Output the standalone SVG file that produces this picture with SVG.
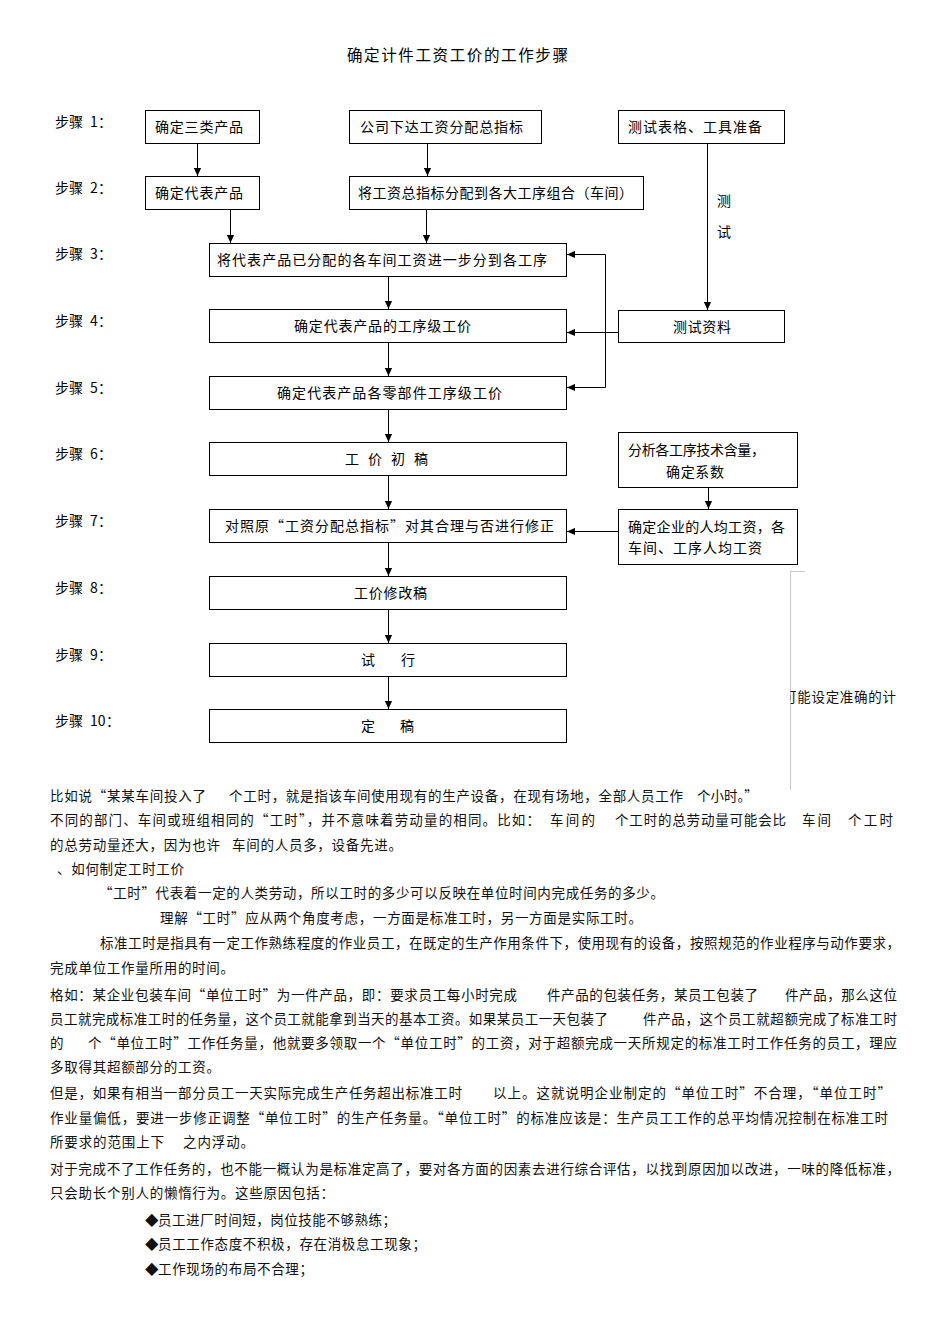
<svg xmlns="http://www.w3.org/2000/svg" width="950" height="1344" viewBox="0 0 950 1344">
<style>
.bg{fill:#fff}
.box{fill:#fff;stroke:#000;stroke-width:1}
.t{font-family:"Noto Sans CJK SC","Liberation Sans",sans-serif;font-size:14px;fill:#000}
.title{font-family:"Noto Sans CJK SC","Liberation Sans",sans-serif;font-size:15.5px;fill:#000}
.b{font-family:"Noto Sans CJK SC","Liberation Serif",serif;font-size:13.5px;fill:#111}
.conn{stroke:#000;stroke-width:1;fill:none}
.gray{stroke:#c8c8c8;stroke-width:1;fill:none}
</style>
<defs>
<marker id="ah" viewBox="0 0 10 10" refX="10" refY="5" markerWidth="8" markerHeight="8" markerUnits="userSpaceOnUse" orient="auto-start-reverse">
<path d="M0,0.5 L10,5 L0,9.5 z" fill="#000"/>
</marker>
<clipPath id="clipR"><rect x="790.5" y="680" width="160" height="30"/></clipPath>
</defs>
<rect class="bg" x="0" y="0" width="950" height="1344"/>

<text class="title" x="347" y="61" textLength="221" lengthAdjust="spacing">确定计件工资工价的工作步骤</text>

<g id="step-labels">
<text class="t" x="55" y="127">步骤<tspan x="90">1</tspan><tspan x="98">：</tspan></text>
<text class="t" x="55" y="193">步骤<tspan x="90">2</tspan><tspan x="98">：</tspan></text>
<text class="t" x="55" y="259">步骤<tspan x="90">3</tspan><tspan x="98">：</tspan></text>
<text class="t" x="55" y="326">步骤<tspan x="90">4</tspan><tspan x="98">：</tspan></text>
<text class="t" x="55" y="393">步骤<tspan x="90">5</tspan><tspan x="98">：</tspan></text>
<text class="t" x="55" y="459">步骤<tspan x="90">6</tspan><tspan x="98">：</tspan></text>
<text class="t" x="55" y="526">步骤<tspan x="90">7</tspan><tspan x="98">：</tspan></text>
<text class="t" x="55" y="593">步骤<tspan x="90">8</tspan><tspan x="98">：</tspan></text>
<text class="t" x="55" y="660">步骤<tspan x="90">9</tspan><tspan x="98">：</tspan></text>
<text class="t" x="55" y="726">步骤<tspan x="90">10</tspan><tspan x="106">：</tspan></text>
</g>

<g id="connectors">
<path class="conn" d="M197.5,143 V176" marker-end="url(#ah)"/>
<path class="conn" d="M427.5,143 V176" marker-end="url(#ah)"/>
<path class="conn" d="M230.5,210 V243" marker-end="url(#ah)"/>
<path class="conn" d="M426.5,210 V243" marker-end="url(#ah)"/>
<path class="conn" d="M388.5,276 V309" marker-end="url(#ah)"/>
<path class="conn" d="M388.5,342 V376" marker-end="url(#ah)"/>
<path class="conn" d="M388.5,409 V442" marker-end="url(#ah)"/>
<path class="conn" d="M388.5,475 V509" marker-end="url(#ah)"/>
<path class="conn" d="M388.5,542 V576" marker-end="url(#ah)"/>
<path class="conn" d="M388.5,609 V643" marker-end="url(#ah)"/>
<path class="conn" d="M388.5,676 V709" marker-end="url(#ah)"/>
<path class="conn" d="M707.5,143 V310" marker-end="url(#ah)"/>
<path class="conn" d="M618,332.5 H567" marker-end="url(#ah)"/>
<path class="conn" d="M567,254.5 H605.5 V387.5 H567" marker-start="url(#ah)" marker-end="url(#ah)"/>
<path class="conn" d="M708.5,487 V509" marker-end="url(#ah)"/>
<path class="conn" d="M618,531.5 H567" marker-end="url(#ah)"/>
<text class="t" x="717" y="206">测</text>
<text class="t" x="717" y="237">试</text>
</g>

<g id="n-sanlei"><rect class="box" x="145.5" y="110.5" width="114" height="33"/><text class="t" x="155" y="132" textLength="88" lengthAdjust="spacing">确定三类产品</text></g>
<g id="n-gongsi"><rect class="box" x="349.5" y="110.5" width="192" height="33"/><text class="t" x="360" y="132" textLength="163" lengthAdjust="spacing">公司下达工资分配总指标</text></g>
<g id="n-ceshibiao"><rect class="box" x="618.5" y="110.5" width="166" height="33"/><text class="t" x="628" y="132" textLength="134" lengthAdjust="spacing">测试表格、工具准备</text></g>
<g id="n-daibiao"><rect class="box" x="145.5" y="176.5" width="114" height="33"/><text class="t" x="155" y="198" textLength="88" lengthAdjust="spacing">确定代表产品</text></g>
<g id="n-fenpei"><rect class="box" x="349.5" y="176.5" width="294" height="33"/><text class="t" x="358" y="198" textLength="275" lengthAdjust="spacing">将工资总指标分配到各大工序组合（车间）</text></g>
<g id="n-s3"><rect class="box" x="209.5" y="243.5" width="357" height="33"/><text class="t" x="217" y="265" textLength="330" lengthAdjust="spacing">将代表产品已分配的各车间工资进一步分到各工序</text></g>
<g id="n-s4"><rect class="box" x="209.5" y="309.5" width="357" height="33"/><text class="t" x="294" y="331" textLength="177" lengthAdjust="spacing">确定代表产品的工序级工价</text></g>
<g id="n-s5"><rect class="box" x="209.5" y="376.5" width="357" height="33"/><text class="t" x="277" y="398" textLength="225" lengthAdjust="spacing">确定代表产品各零部件工序级工价</text></g>
<g id="n-s6"><rect class="box" x="209.5" y="442.5" width="357" height="33"/><text class="t" x="345 368 391 414" y="464">工价初稿</text></g>
<g id="n-s7"><rect class="box" x="209.5" y="509.5" width="357" height="33"/><text class="t" x="225" y="531" textLength="329" lengthAdjust="spacing">对照原“工资分配总指标”对其合理与否进行修正</text></g>
<g id="n-s8"><rect class="box" x="209.5" y="576.5" width="357" height="33"/><text class="t" x="354" y="598" textLength="73" lengthAdjust="spacing">工价修改稿</text></g>
<g id="n-s9"><rect class="box" x="209.5" y="643.5" width="357" height="33"/><text class="t" x="361 401" y="665">试行</text></g>
<g id="n-s10"><rect class="box" x="209.5" y="709.5" width="357" height="33"/><text class="t" x="361 400" y="731">定稿</text></g>
<g id="n-ceshiziliao"><rect class="box" x="618.5" y="310.5" width="166" height="32"/><text class="t" x="673" y="332" textLength="58" lengthAdjust="spacing">测试资料</text></g>
<g id="n-fenxi"><rect class="box" x="618.5" y="432.5" width="179" height="55"/><text class="t" x="628" y="455" textLength="137" lengthAdjust="spacing">分析各工序技术含量，</text><text class="t" x="666" y="477" textLength="58" lengthAdjust="spacing">确定系数</text></g>
<g id="n-renjun"><rect class="box" x="618.5" y="509.5" width="179" height="55"/><text class="t" x="628" y="532" textLength="157" lengthAdjust="spacing">确定企业的人均工资，各</text><text class="t" x="628" y="553" textLength="134" lengthAdjust="spacing">车间、工序人均工资</text></g>

<g id="stray">
<path class="gray" d="M790.5,571.5 H805 M790.5,571 V790"/>
<text class="b" x="783" y="702" textLength="113" lengthAdjust="spacing" clip-path="url(#clipR)">可能设定准确的计</text>
</g>

<g id="body">
<text class="b" x="50" y="801" textLength="156" lengthAdjust="spacing">比如说“某某车间投入了</text>
<text class="b" x="229" y="801" textLength="454" lengthAdjust="spacing">个工时，就是指该车间使用现有的生产设备，在现有场地，全部人员工作</text>
<text class="b" x="697" y="801">个小时。”</text>

<text class="b" x="50" y="825" textLength="490" lengthAdjust="spacing">不同的部门、车间或班组相同的“工时”，并不意味着劳动量的相同。比如：</text>
<text class="b" x="550" y="825" textLength="45" lengthAdjust="spacing">车间的</text>
<text class="b" x="615" y="825" textLength="171" lengthAdjust="spacing">个工时的总劳动量可能会比</text>
<text class="b" x="802" y="825" textLength="29" lengthAdjust="spacing">车间</text>
<text class="b" x="848" y="825" textLength="45" lengthAdjust="spacing">个工时</text>

<text class="b" x="50" y="850" textLength="170" lengthAdjust="spacing">的总劳动量还大，因为也许</text>
<text class="b" x="232" y="850" textLength="170" lengthAdjust="spacing">车间的人员多，设备先进。</text>

<text class="b" x="57" y="874" textLength="127" lengthAdjust="spacing">、如何制定工时工价</text>
<text class="b" x="99" y="898" textLength="565" lengthAdjust="spacing">“工时”代表着一定的人类劳动，所以工时的多少可以反映在单位时间内完成任务的多少。</text>
<text class="b" x="160" y="923" textLength="482" lengthAdjust="spacing">理解“工时”应从两个角度考虑，一方面是标准工时，另一方面是实际工时。</text>
<text class="b" x="100" y="948" textLength="800" lengthAdjust="spacing">标准工时是指具有一定工作熟练程度的作业员工，在既定的生产作用条件下，使用现有的设备，按照规范的作业程序与动作要求，</text>
<text class="b" x="50" y="973" textLength="184" lengthAdjust="spacing">完成单位工作量所用的时间。</text>

<text class="b" x="50" y="1000" textLength="467" lengthAdjust="spacing">格如：某企业包装车间“单位工时”为一件产品，即：要求员工每小时完成</text>
<text class="b" x="547" y="1000" textLength="211" lengthAdjust="spacing">件产品的包装任务，某员工包装了</text>
<text class="b" x="785" y="1000" textLength="112" lengthAdjust="spacing">件产品，那么这位</text>

<text class="b" x="50" y="1024" textLength="558" lengthAdjust="spacing">员工就完成标准工时的任务量，这个员工就能拿到当天的基本工资。如果某员工一天包装了</text>
<text class="b" x="643" y="1024" textLength="254" lengthAdjust="spacing">件产品，这个员工就超额完成了标准工时</text>

<text class="b" x="50" y="1048">的</text>
<text class="b" x="88" y="1048" textLength="809" lengthAdjust="spacing">个“单位工时”工作任务量，他就要多领取一个“单位工时”的工资，对于超额完成一天所规定的标准工时工作任务的员工，理应</text>
<text class="b" x="50" y="1072" textLength="170" lengthAdjust="spacing">多取得其超额部分的工资。</text>

<text class="b" x="50" y="1098" textLength="412" lengthAdjust="spacing">但是，如果有相当一部分员工一天实际完成生产任务超出标准工时</text>
<text class="b" x="493" y="1098" textLength="398" lengthAdjust="spacing">以上。这就说明企业制定的“单位工时”不合理，“单位工时”</text>
<text class="b" x="50" y="1123" textLength="838" lengthAdjust="spacing">作业量偏低，要进一步修正调整“单位工时”的生产任务量。“单位工时”的标准应该是：生产员工工作的总平均情况控制在标准工时</text>
<text class="b" x="50" y="1147" textLength="114" lengthAdjust="spacing">所要求的范围上下</text>
<text class="b" x="183" y="1147" textLength="71" lengthAdjust="spacing">之内浮动。</text>

<text class="b" x="50" y="1174" textLength="850" lengthAdjust="spacing">对于完成不了工作任务的，也不能一概认为是标准定高了，要对各方面的因素去进行综合评估，以找到原因加以改进，一味的降低标准，</text>
<text class="b" x="50" y="1198" textLength="284" lengthAdjust="spacing">只会助长个别人的懒惰行为。这些原因包括：</text>

<text class="b" x="145" y="1225">◆</text><text class="b" x="158" y="1225" textLength="238" lengthAdjust="spacing">员工进厂时间短，岗位技能不够熟练；</text>
<text class="b" x="145" y="1249">◆</text><text class="b" x="158" y="1249" textLength="268" lengthAdjust="spacing">员工工作态度不积极，存在消极怠工现象；</text>
<text class="b" x="145" y="1274">◆</text><text class="b" x="158" y="1274" textLength="155" lengthAdjust="spacing">工作现场的布局不合理；</text>
</g>
</svg>
